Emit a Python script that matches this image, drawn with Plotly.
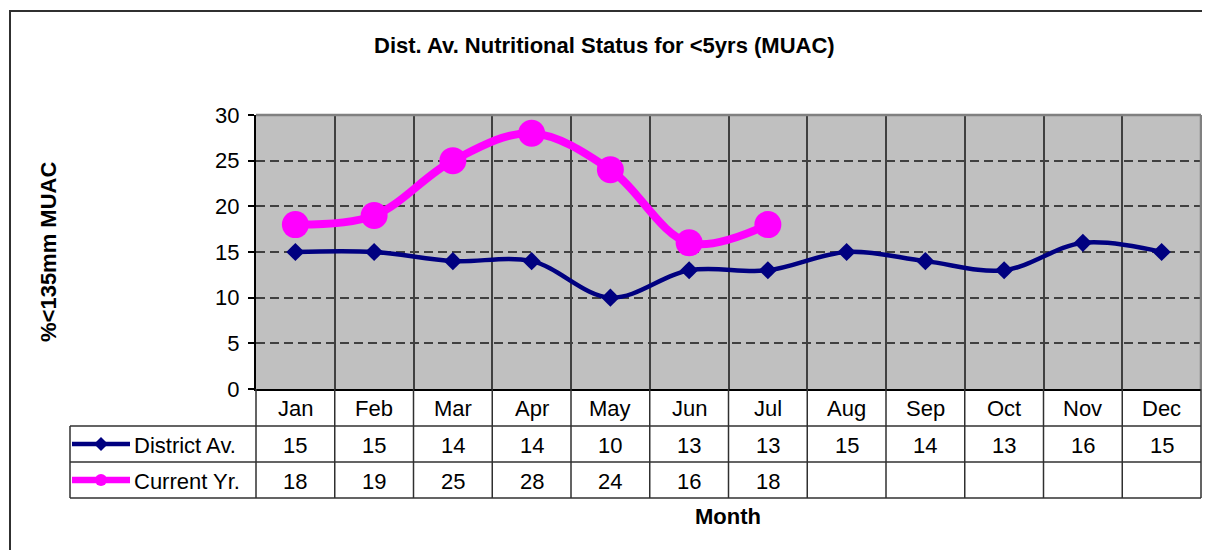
import plotly.graph_objects as go

months = ["Jan", "Feb", "Mar", "Apr", "May", "Jun", "Jul", "Aug", "Sep", "Oct", "Nov", "Dec"]
district_av = [15, 15, 14, 14, 10, 13, 13, 15, 14, 13, 16, 15]
current_yr = [18, 19, 25, 28, 24, 16, 18, None, None, None, None, None]
series_names = ["District Av.", "Current Yr."]
y_ticks = [0, 5, 10, 15, 20, 25, 30]

OFF = 8  # page body margin
W, H = 1202, 542
L = 256 - OFF
T = 115 - OFF
R = W - (1201 - OFF)
B = H - (389 - OFF)
PW = W - L - R
PH = H - T - B

def px(x):
    return (x - OFF - L) / PW

def py(y):
    return (H - B - (y - OFF)) / PH

FONT = "Arial, Liberation Sans, sans-serif"
FS = 22
NAVY = "#000080"
MAG = "#FF00FF"
LINE = "#303030"

fig = go.Figure()
fig.add_trace(go.Scatter(
    x=months, y=district_av, mode="lines+markers", name=series_names[0],
    line=dict(color=NAVY, width=4.5, shape="spline", smoothing=1.0),
    marker=dict(symbol="diamond", size=14, color=NAVY),
    showlegend=False, cliponaxis=False))
fig.add_trace(go.Scatter(
    x=months, y=current_yr, mode="lines+markers", name=series_names[1],
    line=dict(color=MAG, width=8, shape="spline", smoothing=1.0),
    marker=dict(symbol="circle", size=27, color=MAG),
    showlegend=False, connectgaps=False, cliponaxis=False))

shapes = []
annotations = []
n = len(months)
row_month = (389, 426)
row1 = (426, 462)
row2 = (462, 498)
legend_left = 70

for k in range(n + 1):
    shapes.append(dict(type="line", xref="paper", yref="paper",
                       x0=k / n, x1=k / n, y0=0, y1=py(row2[1]),
                       line=dict(color=LINE, width=1.5), layer="above"))
for yy in [row_month[1], row1[1], row2[1]]:
    shapes.append(dict(type="line", xref="paper", yref="paper", x0=px(legend_left), x1=1,
                       y0=py(yy), y1=py(yy), line=dict(color=LINE, width=1.5)))
shapes.append(dict(type="line", xref="paper", yref="paper", x0=px(legend_left), x1=px(legend_left),
                   y0=py(row_month[1]), y1=py(row2[1]), line=dict(color=LINE, width=1.5)))
shapes.append(dict(type="line", xref="paper", yref="paper", x0=0, x1=1, y0=1, y1=1,
                   line=dict(color="#808080", width=2.5)))
shapes.append(dict(type="line", xref="paper", yref="paper", x0=1, x1=1, y0=0, y1=1,
                   line=dict(color="#808080", width=2.5)))
shapes.append(dict(type="rect", xref="paper", yref="paper",
                   x0=px(10), x1=px(1230), y0=py(11), y1=py(600),
                   line=dict(color="#303030", width=2), fillcolor="rgba(0,0,0,0)"))

leg_x0, leg_x1, leg_xm = 72, 130, 101
for (row, color, width) in [(row1, NAVY, 4.5), (row2, MAG, 6.5)]:
    yc = py((row[0] + row[1]) / 2)
    shapes.append(dict(type="line", xref="paper", yref="paper",
                       x0=px(leg_x0), x1=px(leg_x1), y0=yc, y1=yc,
                       line=dict(color=color, width=width)))
yc1 = (row1[0] + row1[1]) / 2
d = 7
shapes.append(dict(type="path", xref="paper", yref="paper",
                   path=f"M {px(leg_xm - d)} {py(yc1)} L {px(leg_xm)} {py(yc1 - d)} L {px(leg_xm + d)} {py(yc1)} L {px(leg_xm)} {py(yc1 + d)} Z",
                   fillcolor=NAVY, line=dict(color=NAVY, width=0)))
yc2 = (row2[0] + row2[1]) / 2
r = 6
shapes.append(dict(type="circle", xref="paper", yref="paper",
                   x0=px(leg_xm - r), x1=px(leg_xm + r), y0=py(yc2 - r), y1=py(yc2 + r),
                   fillcolor=MAG, line=dict(color=MAG, width=0)))

for name, row in zip(series_names, [row1, row2]):
    annotations.append(dict(text=name, xref="paper", yref="paper", x=px(132),
                            y=py((row[0] + row[1]) / 2 + 1), xanchor="left", yanchor="middle",
                            showarrow=False, font=dict(size=FS, color="black", family=FONT)))

for i, m in enumerate(months):
    xc = (i + 0.5) / n
    annotations.append(dict(text=m, xref="paper", yref="paper", x=xc,
                            y=py(sum(row_month) / 2 + 1), xanchor="center", yanchor="middle",
                            showarrow=False, font=dict(size=FS, color="black", family=FONT)))
    for vals, row in [(district_av, row1), (current_yr, row2)]:
        if vals[i] is not None:
            annotations.append(dict(text=str(vals[i]), xref="paper", yref="paper", x=xc,
                                    y=py(sum(row) / 2 + 1), xanchor="center", yanchor="middle",
                                    showarrow=False, font=dict(size=FS, color="black", family=FONT)))

annotations.append(dict(text="<b>Dist. Av. Nutritional Status for &lt;5yrs (MUAC)</b>",
                        xref="paper", yref="paper", x=px(604), y=py(45),
                        xanchor="center", yanchor="middle", showarrow=False,
                        font=dict(size=FS, color="black", family=FONT)))
annotations.append(dict(text="<b>%&lt;135mm MUAC</b>", textangle=-90,
                        xref="paper", yref="paper", x=px(48), y=py(252),
                        xanchor="center", yanchor="middle", showarrow=False,
                        font=dict(size=FS, color="black", family=FONT)))
annotations.append(dict(text="<b>Month</b>", xref="paper", yref="paper",
                        x=px(728), y=py(517), xanchor="center", yanchor="middle",
                        showarrow=False, font=dict(size=FS, color="black", family=FONT)))

fig.update_layout(
    width=W, height=H,
    margin=dict(l=L, r=R, t=T, b=B, autoexpand=False),
    paper_bgcolor="white", plot_bgcolor="#C0C0C0",
    shapes=shapes, annotations=annotations,
    font=dict(family=FONT, size=FS, color="black"),
    xaxis=dict(type="category", categoryorder="array", categoryarray=months,
               range=[-0.5, n - 0.5], tickson="boundaries", showgrid=True,
               gridcolor="#404040", gridwidth=1.5, showticklabels=False, ticks="",
               showline=True, linecolor="black", linewidth=2, zeroline=False, fixedrange=True),
    yaxis=dict(range=[0, 30], tickvals=y_ticks, showgrid=True, gridcolor="#404040",
               gridwidth=1.5, griddash="9px,5px", ticks="outside", ticklen=6,
               tickcolor="black", tickwidth=1.5, showline=True, linecolor="black",
               linewidth=2, zeroline=False, tickfont=dict(size=FS, family=FONT),
               ticklabelstandoff=4, fixedrange=True),
)

fig.write_html("out.html")
